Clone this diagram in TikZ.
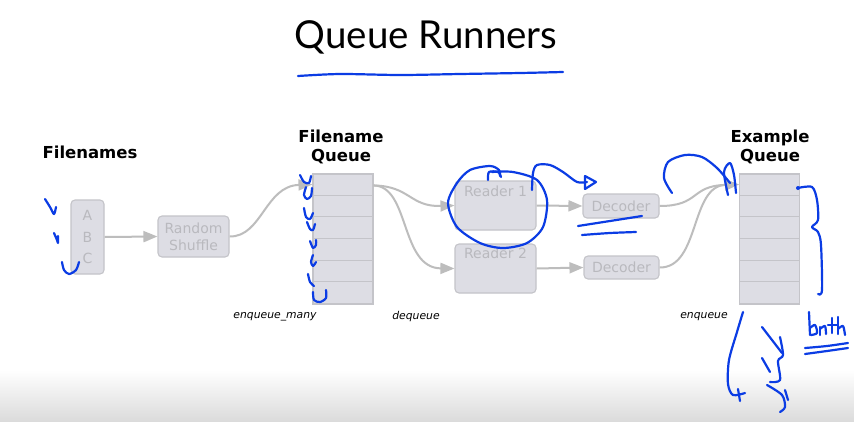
\documentclass[tikz,border=0pt]{standalone}
\usepackage{fontspec}
\setmainfont{DejaVu Sans}
\newfontfamily\titlefont{Lato}
\usetikzlibrary{arrows.meta}
\definecolor{boxfill}{HTML}{DDDDE4}
\definecolor{boxline}{HTML}{C4C4C9}
\definecolor{greytext}{HTML}{B9B9BE}
\definecolor{connc}{HTML}{BDBDBD}
\definecolor{pen}{HTML}{0B3CE4}
\tikzset{
  gbox/.style={draw=boxline, fill=boxfill, line width=1.1pt, rounded corners=4pt, inner sep=0pt},
  qbox/.style={draw=boxline, fill=boxfill, line width=1.1pt, inner sep=0pt, minimum width=60pt, minimum height=130pt},
  gtext/.style={text=greytext, font=\fontsize{14}{17}\selectfont, align=center, inner sep=0pt},
  head/.style={font=\fontsize{16.5}{18.5}\selectfont\bfseries, align=center, inner sep=0pt},
  op/.style={font=\fontsize{10.8}{12}\selectfont\itshape, inner sep=0pt},
  conn/.style={draw=connc, line width=2pt, -{Triangle[length=14pt,width=11pt]}},
  penline/.style={draw=pen, line width=2.2pt, line cap=round, line join=round}
}
\begin{document}
\begin{tikzpicture}[x=1pt,y=-1pt]
\fill[white] (0,0) rectangle (854,421);
\shade[top color=white, bottom color=black!14] (0,370) rectangle (854,421);
\useasboundingbox (0,0) rectangle (854,421);

% title
\node[font=\titlefont\fontsize{38.5}{42}\selectfont, inner sep=0pt] (title) at (426,37) {Queue Runners};

% headings
\node[head] (hfn) at (90,152) {Filenames};
\node[head] (hfq) at (341,147) {Filename\\Queue};
\node[head] (heq) at (770,147) {Example\\Queue};

% boxes
\node[gbox, minimum width=33pt, minimum height=74pt] (abc) at (87.5,237) {};
\node[gtext, font=\fontsize{14}{21.5}\selectfont] (abct) at (abc.center) {A\\B\\C};
\node[gbox, minimum width=71pt, minimum height=41pt] (rs) at (193.5,236.5) {};
\node[gtext] (rst) at (rs.center) {Random\\Shuffle};

\node[qbox] (fq) at (343,239) {};
\foreach \i in {1,...,5} {\draw[boxline, line width=1.1pt] ([yshift=-\i*21.67pt]fq.north west) -- ([yshift=-\i*21.67pt]fq.north east);}
\node[qbox] (eq) at (769.5,239) {};
\foreach \i in {1,...,5} {\draw[boxline, line width=1.1pt] ([yshift=-\i*21.67pt]eq.north west) -- ([yshift=-\i*21.67pt]eq.north east);}

\node[gbox, minimum width=81pt, minimum height=49pt] (r1) at (495.5,205.5) {};
\node[gtext, anchor=north] (r1t) at ([yshift=-5pt]r1.north) {Reader 1};
\node[gbox, minimum width=81pt, minimum height=49pt] (r2) at (495.5,268.5) {};
\node[gtext, anchor=north] (r2t) at ([yshift=-4pt]r2.north) {Reader 2};
\node[gbox, minimum width=76pt, minimum height=24pt] (d1) at (621,206) {};
\node[gtext] (d1t) at (d1.center) {Decoder};
\node[gbox, minimum width=75pt, minimum height=23pt] (d2) at (621.5,267.5) {};
\node[gtext] (d2t) at (d2.center) {Decoder};

% op labels
\node[op] (l1) at (275,317) {enqueue\_many};
\node[op] (l2) at (416,317) {dequeue};
\node[op] (l3) at (704,317) {enqueue};

% connectors
\coordinate (fqin) at ([yshift=-11pt]fq.north west);
\coordinate (fqout) at ([yshift=-12pt]fq.north east);
\coordinate (eqin) at ([yshift=-11pt]eq.north west);
\draw[conn] (abc.east) -- (rs.west);
\draw[conn] (rs.east) .. controls (262,237) and (265,186) .. (fqin);
\draw[conn] (fqout) .. controls (410,186) and (410,207) .. (r1.west);
\draw[conn] (fqout) .. controls (410,186) and (400,268) .. (r2.west);
\draw[conn] (r1.east) -- (d1.west);
\draw[conn] (r2.east) -- (d2.west);
\draw[conn] (d1.east) .. controls (700,206) and (690,186) .. (eqin);
\draw[conn] (d2.east) .. controls (700,268) and (690,186) .. (eqin);

% hand-drawn annotations
\draw[penline] plot[smooth] coordinates {(298,76) (340,74) (400,75) (460,74) (520,73) (563,72)};
% checks at filenames
\draw[penline] plot[smooth] coordinates {(45,199) (50,207) (54,214) (56,207)};
\draw[penline] plot[smooth] coordinates {(54,233) (57,240) (58,243) (58,236)};
\draw[penline] plot[smooth] coordinates {(62,262) (64,270) (69,274) (76,270) (79,262)};
% checks at filename queue
\draw[penline] plot[smooth] coordinates {(300,175) (304,182) (309,183) (311,176)};
\draw[penline] plot[smooth] coordinates {(306,187) (304,195) (307,199) (311,196) (312,188)};
\draw[penline] plot[smooth] coordinates {(304,208) (306,217) (310,219) (313,213)};
\draw[penline] plot[smooth] coordinates {(307,222) (310,229) (313,230) (315,224)};
\draw[penline] plot[smooth] coordinates {(310,241) (313,248) (316,245) (316,240)};
\draw[penline] plot[smooth] coordinates {(313,255) (311,262) (313,266) (316,262)};
\draw[penline] plot[smooth] coordinates {(308,274) (310,282) (314,286)};
\draw[penline] plot[smooth] coordinates {(313,292) (314,300) (320,302) (326,298) (326,290)};
% circle round reader 1
\draw[penline] plot[smooth] coordinates {(500,176) (499,170) (490,166) (470,170) (457,183) (448,203) (457,227) (480,243) (503,248) (527,243) (543,227) (547,200) (537,180) (513,172) (492,172)};
\draw[penline] plot[smooth] coordinates {(488,180) (489,172) (498,172) (501,177)};
\draw[penline] plot[smooth] coordinates {(532,190) (533,173) (537,165) (550,165) (563,172) (577,182) (587,182)};
\draw[penline] (585,176) -- (596,182) -- (585,189) -- cycle;
\draw[penline] plot[smooth] coordinates {(578,226) (610,221) (642,216)};
\draw[penline] plot[smooth] coordinates {(582,235) (610,233) (636,232)};
% example queue
\draw[penline] plot[smooth] coordinates {(672,193) (664,178) (668,162) (685,155) (702,157) (717,168) (730,183)};
\draw[penline] plot[smooth] coordinates {(728,195) (724,172) (730,163) (734,175) (736,193)};
\fill[pen] (798,188) circle (2pt);
\draw[penline] plot[smooth] coordinates {(798,188) (812,187) (817,200) (818,220) (812,227) (818,232) (821,245) (822,290) (818,294)};
% handwriting
\draw[penline] (809,312) -- (810,335);
\draw[penline] plot[smooth] coordinates {(810,328) (815,325) (817,333) (811,335)};
\draw[penline] (820,327) -- (820,335);
\draw[penline] plot[smooth] coordinates {(820,329) (825,326) (826,334)};
\draw[penline] (832,318) -- (832,333);
\draw[penline] (828,325) -- (837,325);
\draw[penline] (838,317) -- (838,334);
\draw[penline] plot[smooth] coordinates {(838,329) (843,326) (845,335)};
\draw[penline] plot[smooth] coordinates {(805,348) (827,346) (848,343)};
\draw[penline] plot[smooth] coordinates {(805,354) (827,351) (848,348)};
% lines below example queue
\draw[penline] plot[smooth] coordinates {(743,312) (737,332) (729,360) (728,384) (733,395) (745,393)};
\draw[penline] (738,389) -- (740,401);
\draw[penline] (762,327) -- (782,353);
\draw[penline] plot[smooth] coordinates {(780,337) (783,355) (778,361) (780,380) (770,382)};
\draw[penline] (762,358) -- (770,372);
\draw[penline] plot[smooth] coordinates {(767,385) (782,395) (785,407) (780,412)};
\draw[penline] (785,390) -- (788,400);
\end{tikzpicture}
\end{document}
